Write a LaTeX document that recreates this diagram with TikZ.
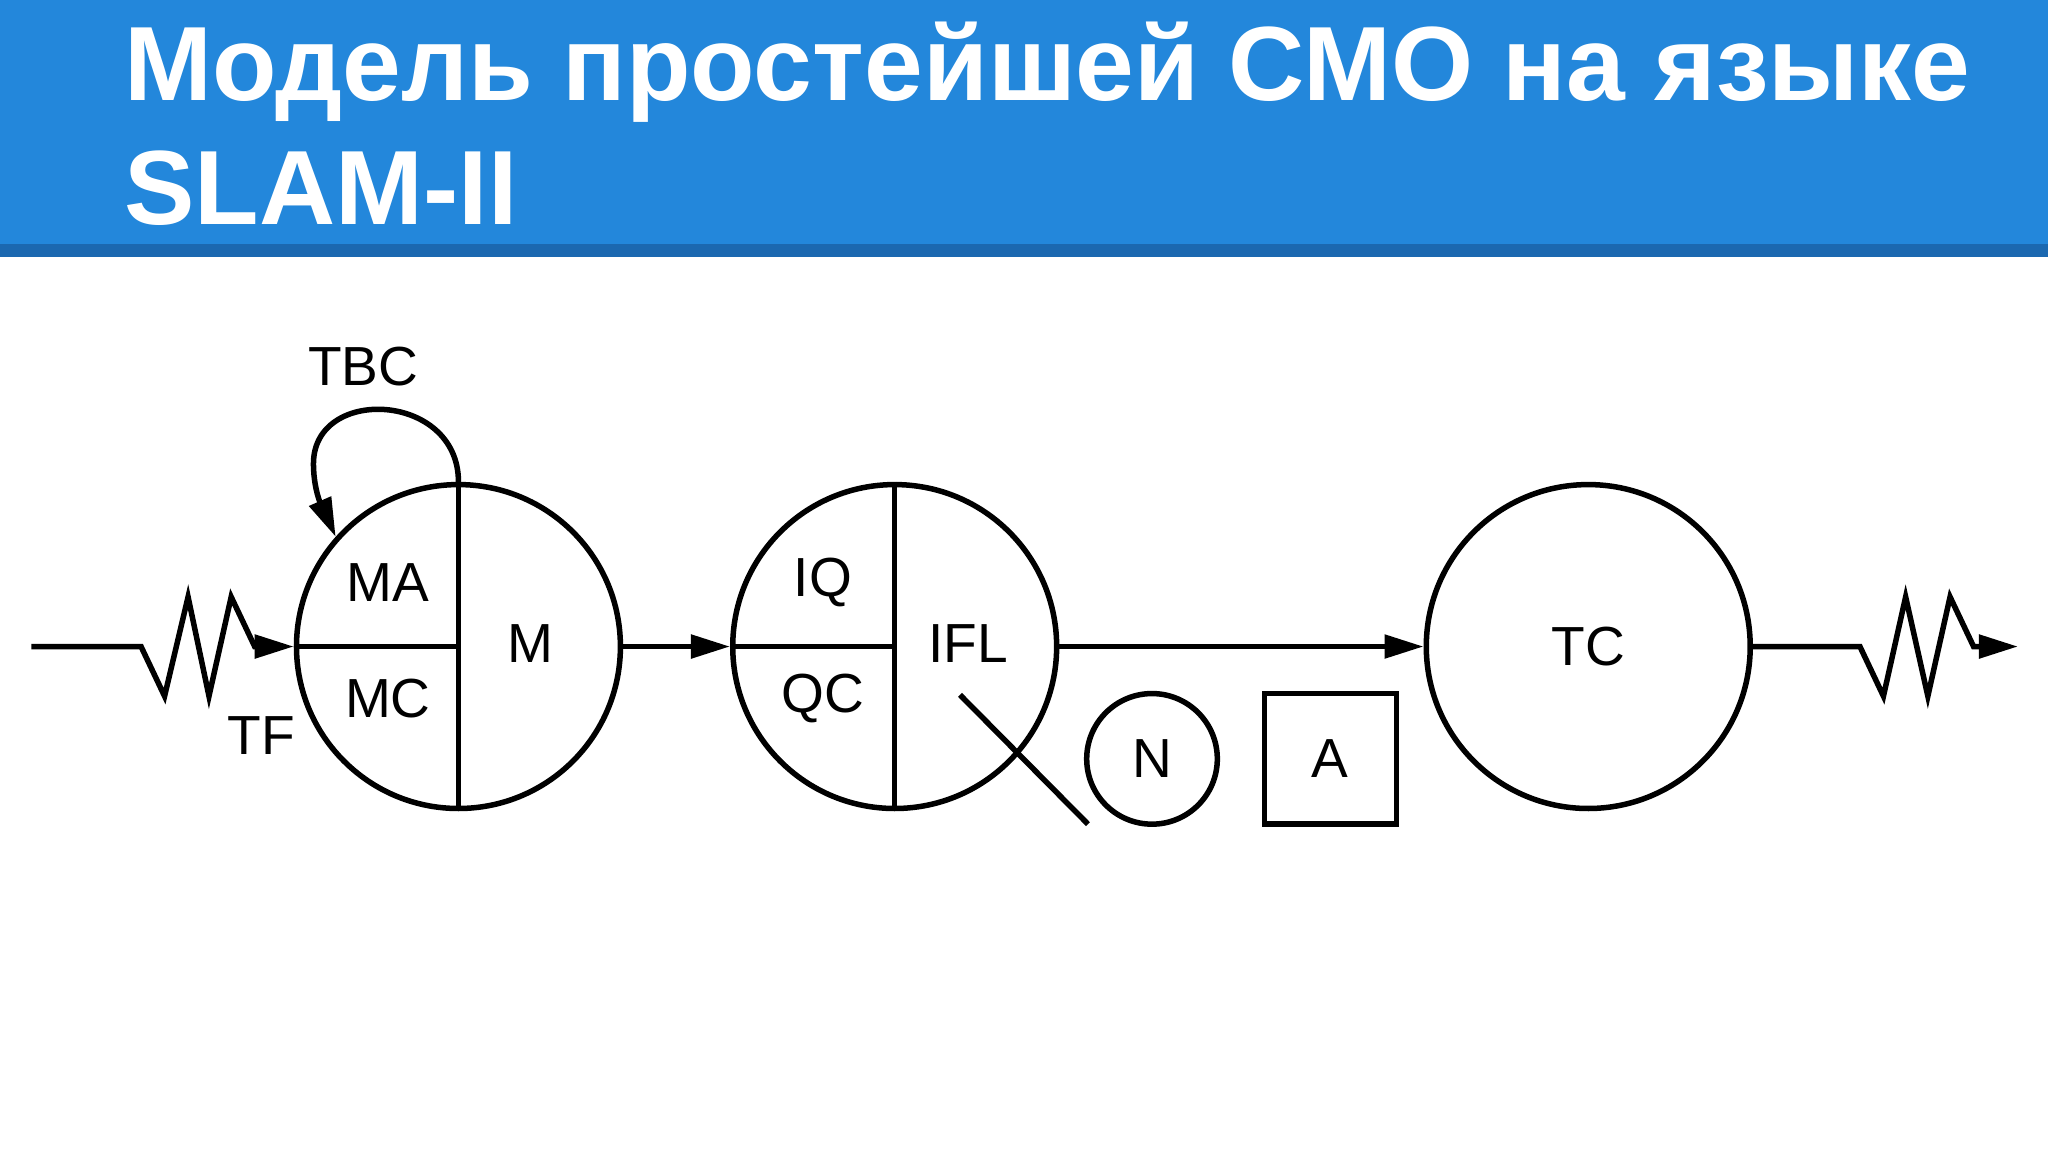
\documentclass[tikz,border=0pt]{standalone}
\usepackage{fontspec}
\setmainfont{Liberation Sans}
\usetikzlibrary{arrows.meta}
\definecolor{hdr}{HTML}{2387DB}
\definecolor{hdrd}{HTML}{1B68B0}
\tikzset{
  ln/.style={line width=2.4pt, line join=miter},
  arr/.style={ln,-{Triangle[length=17pt,width=10pt]}},
  lbl/.style={font=\fontsize{24}{28}\selectfont, inner sep=0pt},
  ttl/.style={font=\bfseries\fontsize{46}{52}\selectfont, text=white, anchor=base west, inner sep=0pt}
}
\begin{document}
\begin{tikzpicture}[x=0.02cm,y=-0.02cm]
\useasboundingbox (0,0) rectangle (1568,882);
\fill[white] (0,0) rectangle (1568,882);
\fill[hdr] (0,0) rectangle (1568,189);
\fill[hdrd] (0,187) rectangle (1568,197);
\node[ttl] (t1) at (95,77) {Модель простейшей СМО на языке};
\node[ttl] (t2) at (95,172) {SLAM-II};
% circle 1
\node[draw,ln,circle,minimum size=248*0.02cm,inner sep=0pt] (c1) at (351,495) {};
\draw[ln] (c1.north) -- (c1.south);
\draw[ln] (c1.west) -- (c1.center);
\node[lbl] (ma) at (297,446) {MA};
\node[lbl] (mc) at (297,535) {MC};
\node[lbl] (m) at (406,493) {M};
\node[lbl] (tbc) at (278,281) {TBC};
\coordinate (lp) at (257,411);
\draw[arr] (c1.north) .. controls (351,300) and (240,295) .. (240,355) .. controls (240,380) and (250,395) .. (lp);
% input
\coordinate (in0) at (24,495);
\draw[arr] (in0) -- (108,495) -- (126,533) -- (144,457) -- (160,533) -- (177,457) -- (195,495) -- (c1.west);
\node[lbl] (tf) at (200,563) {TF};
% circle 2
\node[draw,ln,circle,minimum size=248*0.02cm,inner sep=0pt] (c2) at (685,495) {};
\draw[ln] (c2.north) -- (c2.south);
\draw[ln] (c2.west) -- (c2.center);
\node[lbl] (iq) at (630,446) {IQ};
\node[lbl] (qc) at (630,535) {QC};
\node[lbl] (ifl) at (741,493) {IFL};
\draw[arr] (c1.east) -- (c2.west);
\coordinate (d1) at (735,532); \coordinate (d2) at (833,631);
\draw[ln] (d1) -- (d2);
% N and A
\node[draw,ln,circle,minimum size=100*0.02cm,inner sep=0pt,lbl] (n) at (882,581) {N};
\node[draw,ln,minimum width=101*0.02cm,minimum height=100*0.02cm,lbl] (a) at (1018.5,581) {A};
% TC
\node[draw,ln,circle,minimum size=248*0.02cm,inner sep=0pt,lbl] (tc) at (1216,495) {TC};
\draw[arr] (c2.east) -- (tc.west);
\coordinate (out) at (1545,495);
\draw[arr] (tc.east) -- (1424,495) -- (1442,533) -- (1459,457) -- (1476,533) -- (1493,457) -- (1511,495) -- (out);
\end{tikzpicture}
\end{document}
